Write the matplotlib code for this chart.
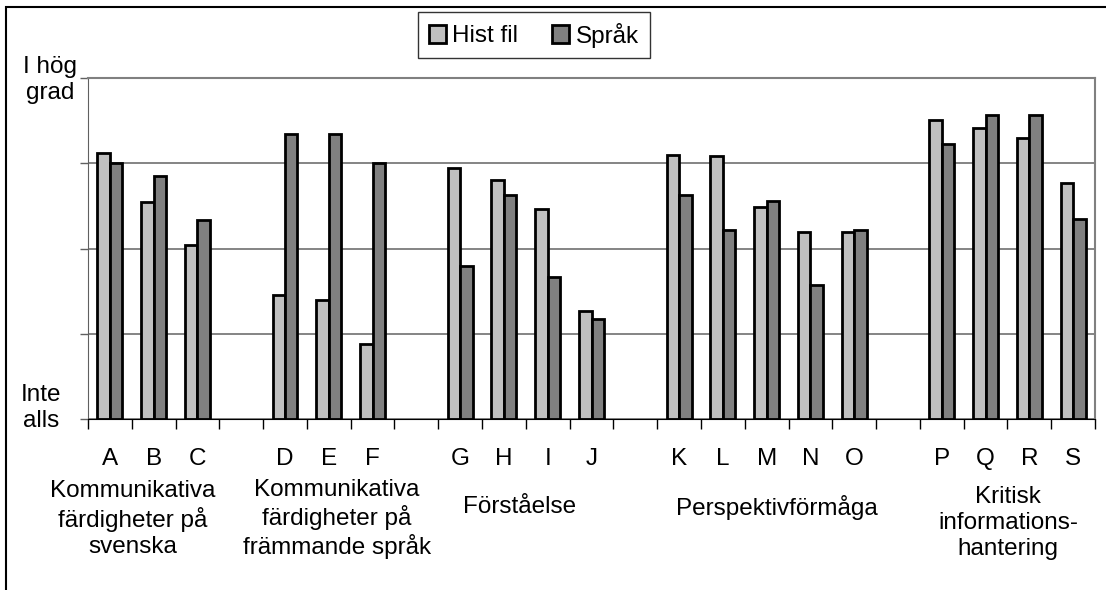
import numpy as np
import matplotlib
matplotlib.use("Agg")
import matplotlib.pyplot as plt
from matplotlib.patches import Rectangle, Patch

plt.rcParams['font.family'] = ['Liberation Sans', 'DejaVu Sans']

letters = ["A", "B", "C", "D", "E", "F", "G", "H", "I", "J",
           "K", "L", "M", "N", "O", "P", "Q", "R", "S"]
slots = [0, 1, 2, 4, 5, 6, 8, 9, 10, 11, 13, 14, 15, 16, 17, 19, 20, 21, 22]
hist_fil = [3.12, 2.54, 2.04, 1.46, 1.40, 0.88, 2.94, 2.80, 2.46, 1.27,
            3.10, 3.08, 2.49, 2.19, 2.19, 3.51, 3.41, 3.30, 2.77]
sprak = [3.00, 2.85, 2.33, 3.34, 3.34, 3.00, 1.79, 2.63, 1.66, 1.17,
         2.63, 2.22, 2.56, 1.57, 2.22, 3.23, 3.57, 3.57, 2.35]
groups = ["Kommunikativa\nfärdigheter på\nsvenska",
          "Kommunikativa\nfärdigheter på\nfrämmande språk",
          "Förståelse",
          "Perspektivförmåga",
          "Kritisk\ninformations-\nhantering"]
n_slots = 23
FS = 17.5

W, H = 1106, 590
fig = plt.figure(figsize=(W / 100, H / 100), dpi=100)
ax = fig.add_axes([88 / W, 1 - 419 / H, 1007 / W, 341 / H])

x = np.array(slots) + 0.5
w = 0.285
ax.bar(x - w / 2, hist_fil, w, color="#C0C0C0", edgecolor="black", linewidth=2.0, zorder=3)
ax.bar(x + w / 2, sprak, w, color="#808080", edgecolor="black", linewidth=2.0, zorder=3)

ax.set_xlim(0, n_slots)
ax.set_ylim(0, 4)
ax.set_yticks([0, 1, 2, 3, 4])
ax.set_yticklabels([])
ax.tick_params(axis="y", length=6, width=1, color="#606060")
ax.yaxis.grid(True, color="#707070", linewidth=1.2, zorder=0)

ax.set_xticks(np.arange(n_slots + 1))
ax.set_xticklabels([])
ax.set_xticks(x, minor=True)
ax.set_xticklabels(letters, minor=True, fontsize=FS)
ax.tick_params(axis="x", which="major", length=7, width=1, color="black")
ax.tick_params(axis="x", which="minor", length=0, pad=21)

for s in ["top", "right"]:
    ax.spines[s].set_color("#808080")
    ax.spines[s].set_linewidth(1.5)
ax.spines["left"].set_color("#606060")
ax.spines["bottom"].set_color("black")
ax.spines["bottom"].set_zorder(4)

# y-axis end labels
fig.text(50 / W, 1 - 80 / H, "I hög\ngrad", ha="center", va="center", fontsize=FS,
         multialignment="center", linespacing=1.25)
fig.text(41 / W, 1 - 408 / H, "Inte\nalls", ha="center", va="center", fontsize=FS,
         multialignment="center", linespacing=1.25)

# group labels
gx = [133, 337, 520, 777, 1008]
gy = [519, 519, 507, 508, 523]
for lab, px, py in zip(groups, gx, gy):
    fig.text(px / W, 1 - py / H, lab, ha="center", va="center", fontsize=FS,
             multialignment="center", linespacing=1.22)

# outer frame
fig.patches.append(Rectangle((6 / W, -0.1), 1.2, 1.1 - 7 / H, transform=fig.transFigure,
                             fill=False, edgecolor="black", linewidth=1.5))

handles = [Patch(facecolor="#C0C0C0", edgecolor="black", linewidth=2.0, label="Hist fil"),
           Patch(facecolor="#808080", edgecolor="black", linewidth=2.0, label="Språk")]
leg = fig.legend(handles=handles, loc="center", ncol=2, fontsize=FS,
                 bbox_to_anchor=(534 / W, 1 - 35 / H), frameon=True, fancybox=False,
                 handlelength=0.7, handleheight=0.7, handletextpad=0.25, columnspacing=1.4,
                 borderpad=0.45, borderaxespad=0)
leg.get_frame().set_edgecolor("black")
leg.get_frame().set_linewidth(1.0)

fig.savefig("out.png", dpi=100)
